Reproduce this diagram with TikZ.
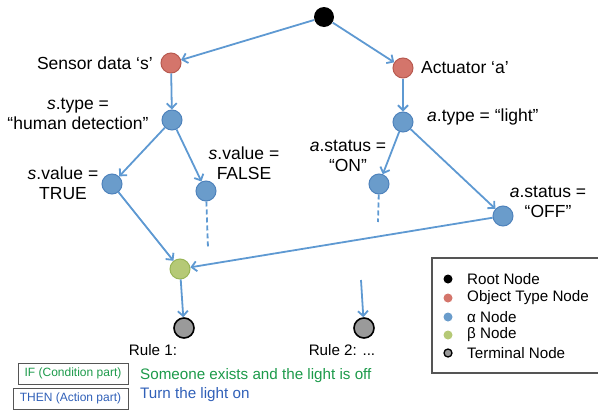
\documentclass[tikz,border=0pt]{standalone}
\usepackage{fontspec}
\setmainfont{Liberation Sans}
\usetikzlibrary{arrows.meta}
\definecolor{edgeblue}{HTML}{5E99D2}
\definecolor{alphafill}{HTML}{6A9CCB}
\definecolor{alphadraw}{HTML}{4F83BC}
\definecolor{objfill}{HTML}{D4756B}
\definecolor{objdraw}{HTML}{B85A50}
\definecolor{betafill}{HTML}{B5C976}
\definecolor{betadraw}{HTML}{99B557}
\definecolor{termfill}{HTML}{9A9A9A}
\definecolor{ifgreen}{HTML}{1C9A4A}
\definecolor{thenblue}{HTML}{3060B8}
\definecolor{boxgray}{HTML}{555555}
\begin{document}
\begin{tikzpicture}[x=1pt,y=-1pt,
 nd/.style={circle,inner sep=0pt,minimum size=20pt,line width=1pt},
 rootn/.style={nd,fill=black},
 objn/.style={nd,fill=objfill,draw=objdraw},
 alphan/.style={nd,fill=alphafill,draw=alphadraw},
 betan/.style={nd,fill=betafill,draw=betadraw},
 termn/.style={nd,fill=termfill,draw=black,line width=1.6pt},
 edge/.style={draw=edgeblue,line width=1.8pt,-{Straight Barb[length=5pt,width=10pt]}},
 dashedge/.style={draw=edgeblue,line width=1.8pt,dash pattern=on 5pt off 3pt},
 lbl/.style={font=\fontsize{17.5}{20}\selectfont,align=center,inner sep=0pt},
 sm/.style={font=\fontsize{15.2}{18}\selectfont,inner sep=0pt},
 keyn/.style={circle,inner sep=0pt,minimum size=9pt},
 rbox/.style={draw=boxgray,line width=0.9pt,minimum height=21pt,inner sep=0pt,font=\fontsize{12}{14}\selectfont},
 ]
\useasboundingbox (0,0) rectangle (598,410);
% nodes
\node[rootn] (root) at (324,17) {};
\node[objn] (sens) at (171,63) {};
\node[objn] (act) at (403,68) {};
\node[alphan] (stype) at (172,120) {};
\node[alphan] (strue) at (112,184) {};
\node[alphan] (sfalse) at (206,191) {};
\node[alphan] (atype) at (403,122) {};
\node[alphan] (aon) at (379,184) {};
\node[alphan] (aoff) at (503,216) {};
\node[betan] (beta) at (180,269) {};
\node[termn] (t1) at (184,328) {};
\node[termn] (t2) at (364,328) {};
\coordinate (t2in) at (361,280);
\coordinate (fdash) at (208,248);
\coordinate (ondash) at (378,222);
% edges
\draw[edge] (root) -- (sens);
\draw[edge] (root) -- (act);
\draw[edge] (sens) -- (stype);
\draw[edge] (stype) -- (strue);
\draw[edge] (stype) -- (sfalse);
\draw[edge] (act) -- (atype);
\draw[edge] (atype) -- (aon);
\draw[edge] (atype) -- (aoff);
\draw[edge] (strue) -- (beta);
\draw[edge] (aoff) -- (beta);
\draw[edge] (beta) -- (t1);
\draw[edge] (t2in) -- (t2);
\draw[dashedge] (sfalse) -- (fdash);
\draw[dashedge] (aon) -- (ondash);
% labels
\node[lbl,anchor=east] (lsens) at (153,63) {Sensor data ‘s’};
\node[lbl,anchor=west] (lact) at (421,68) {Actuator ‘a’};
\node[lbl] (lstype) at (78,114) {\textit{s}.type =\\“human detection”};
\node[lbl] (lstrue) at (63,183) {\textit{s}.value =\\TRUE};
\node[lbl] (lsfalse) at (244,163) {\textit{s}.value =\\FALSE};
\node[lbl,anchor=west] (latype) at (427,117) {\textit{a}.type = “light”};
\node[lbl] (laon) at (348,156) {\textit{a}.status =\\“ON”};
\node[lbl] (laoff) at (548,202) {\textit{a}.status =\\“OFF”};
\node[sm] (r1) at (153,350) {Rule 1:};
\node[sm] (r2) at (342,350) {Rule 2: ...};
% rule text
\node[rbox,minimum width=110pt,text=ifgreen] (ifb) at (73,373.5) {IF (Condition part)};
\node[rbox,minimum width=115pt,text=thenblue] (thenb) at (70.5,398.5) {THEN (Action part)};
\node[sm,anchor=west,text=ifgreen] (ift) at (140,376) {Someone exists and the light is off};
\node[sm,anchor=west,text=thenblue] (thent) at (140,395) {Turn the light on};
% legend
\draw[draw=boxgray,line width=1.3pt] (432,258) rectangle (612,373);
\node[keyn,fill=black] (k1) at (448,279) {};
\node[keyn,fill=objfill] (k2) at (448,298) {};
\node[keyn,fill=alphafill] (k3) at (448,317) {};
\node[keyn,fill=betafill] (k4) at (448,335) {};
\node[keyn,fill=termfill,draw=black,line width=1.3pt,minimum size=8pt] (k5) at (448,353) {};
\node[sm,anchor=west] (kt1) at (467,279) {Root Node};
\node[sm,anchor=west] (kt2) at (467,298) {Object Type Node};
\node[sm,anchor=west] (kt3) at (467,317) {α Node};
\node[sm,anchor=west] (kt4) at (467,335) {β Node};
\node[sm,anchor=west] (kt5) at (467,353) {Terminal Node};
\end{tikzpicture}
\end{document}
